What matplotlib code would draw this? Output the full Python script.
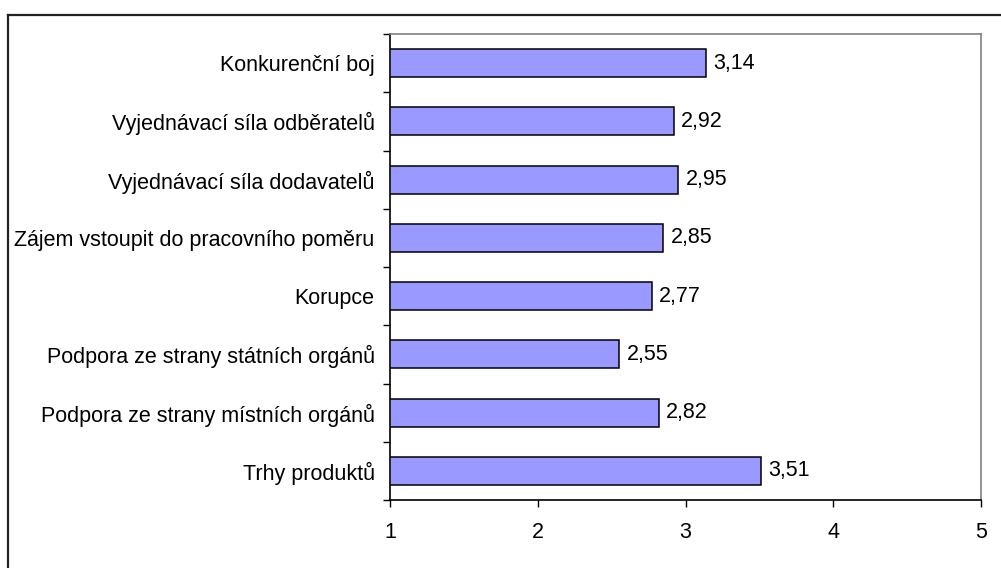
import matplotlib
matplotlib.use("Agg")
import matplotlib.pyplot as plt
from matplotlib.lines import Line2D
import numpy as np

plt.rcParams['font.family'] = ['Liberation Sans', 'DejaVu Sans']

categories = [
    "Konkurenční boj",
    "Vyjednávací síla odběratelů",
    "Vyjednávací síla dodavatelů",
    "Zájem vstoupit do pracovního poměru",
    "Korupce",
    "Podpora ze strany státních orgánů",
    "Podpora ze strany místních orgánů",
    "Trhy produktů",
]
values = [3.14, 2.92, 2.95, 2.85, 2.77, 2.55, 2.82, 3.51]
value_labels = ["3,14", "2,92", "2,95", "2,85", "2,77", "2,55", "2,82", "3,51"]
xticks = [1, 2, 3, 4, 5]

FS = 15.5
W, H = 1001, 568
fig = plt.figure(figsize=(W / 100, H / 100), dpi=100)
fig.patch.set_facecolor("white")

# outer frame (left and top edges visible)
fig.add_artist(Line2D([8 / W, 8 / W], [0, 1 - 15 / H], color="#222222", lw=1.6,
                      transform=fig.transFigure))
fig.add_artist(Line2D([8 / W, 1], [1 - 15 / H, 1 - 15 / H], color="#222222", lw=1.6,
                      transform=fig.transFigure))

left, right = 390 / W, 981 / W
bottom, top = 1 - 500 / H, 1 - 34 / H
ax = fig.add_axes([left, bottom, right - left, top - bottom])

n = len(categories)
y = np.arange(n)
ax.barh(y, np.array(values) - 1, left=1, height=0.48, color="#9999FF",
        edgecolor="black", linewidth=1.1, zorder=3)

for yi, v, lab in zip(y, values, value_labels):
    ax.text(v + 0.05, yi, lab, va="center", ha="left", fontsize=FS, color="black")

ax.set_xlim(1, 5)
ax.set_ylim(n - 0.5, -0.5)
ax.set_xticks(xticks)
ax.set_xticklabels([str(t) for t in xticks], fontsize=FS)
ax.set_yticks(y)
ax.set_yticklabels(categories, fontsize=FS)
ax.set_yticks(np.arange(-0.5, n, 1), minor=True)

ax.tick_params(axis="y", which="major", length=0, pad=11)
ax.tick_params(axis="y", which="minor", length=5, width=1, direction="out", color="black")
ax.tick_params(axis="x", which="major", length=5, width=1, direction="out", pad=11,
               color="black")

for s in ["left", "bottom"]:
    ax.spines[s].set_color("black")
    ax.spines[s].set_linewidth(1.2)
for s in ["top", "right"]:
    ax.spines[s].set_color("#808080")
    ax.spines[s].set_linewidth(1.2)

fig.savefig("out.png", dpi=100)
